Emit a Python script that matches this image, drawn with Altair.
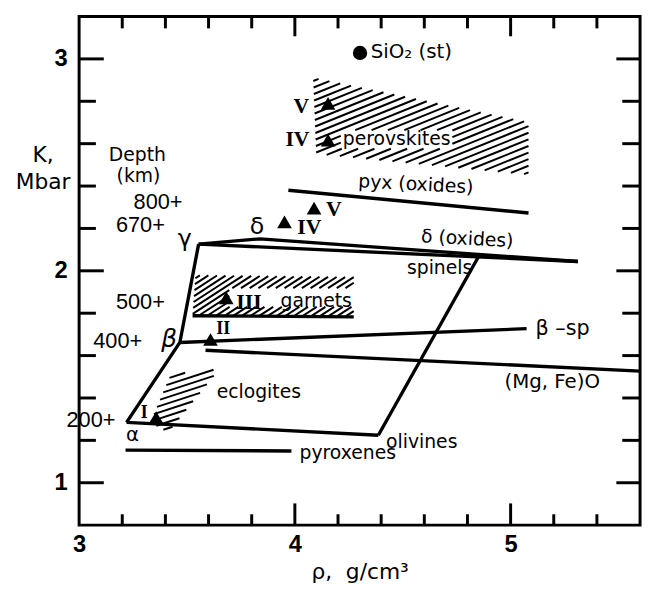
import altair as alt
import pandas as pd
import numpy as np

# ---------------- scales / plot size ----------------
X_DOMAIN = [3.0, 5.6]
Y_DOMAIN = [0.8, 3.2]
W, H = 568, 515

# ---------------- data ----------------
PYROXENES = [(3.215, 1.154), (3.984, 1.150)]
OLIVINES = [(3.220, 1.285), (4.387, 1.224)]
OLIVINE_SPINEL = [(4.387, 1.224), (4.849, 2.063)]
ALPHA_BETA_GAMMA = [(3.220, 1.285), (3.467, 1.662), (3.554, 2.126)]
SPINELS = [(3.554, 2.126), (5.312, 2.044)]
DELTA_OXIDES = [(3.554, 2.126), (3.838, 2.151), (5.312, 2.044)]
BETA_SP = [(3.467, 1.662), (5.074, 1.727)]
MGFEO = [(3.586, 1.625), (5.600, 1.527)]
PYX_OXIDES = [(3.970, 2.380), (5.083, 2.273)]
GARNET_BASE = [(3.526, 1.788), (4.273, 1.783)]

# hatched fields
PEROVSKITE_FIELD = [(4.085, 2.911), (5.083, 2.701), (5.083, 2.454), (4.099, 2.552)]
GARNET_FIELD = [(3.540, 1.979), (4.273, 1.970), (4.273, 1.786), (3.526, 1.788)]
ECLOGITE_FIELD = [(3.426, 1.512), (3.650, 1.536), (3.412, 1.238), (3.330, 1.285)]

# phase points (triangles)
TRI_X = [3.357, 3.609, 3.682, 3.952, 4.089, 4.154, 4.154]
TRI_Y = [1.308, 1.676, 1.872, 2.231, 2.296, 2.790, 2.617]

# stishovite
SIO2_X = [4.302]
SIO2_Y = [3.028]

# tick positions
X_MINOR = [3.2, 3.4, 3.6, 3.8, 4.2, 4.4, 4.6, 4.8, 5.2, 5.4]
X_MAJOR = [4.0, 5.0]
Y_MINOR = [1.2, 1.4, 1.6, 1.8, 2.2, 2.4, 2.6, 2.8]
Y_MAJOR = [1.0, 2.0, 3.0]
X_LABELS = [3, 4, 5]
Y_LABELS = [1, 2, 3]

# annotations: text, x, y, size, angle
SANS_TEXT = [
    ("SiO₂ (st)", 4.540, 3.032, 20, 0),
    ("perovskites", 4.472, 2.622, 19, 0),
    ("pyx (oxides)", 4.561, 2.408, 19, 3),
    ("δ (oxides)", 4.799, 2.151, 19, 3),
    ("spinels", 4.671, 2.012, 19, 0),
    ("garnets", 4.099, 1.858, 19, 0),
    ("β –sp", 5.241, 1.723, 21, 0),
    ("(Mg, Fe)O", 5.193, 1.476, 20, 0),
    ("eclogites", 3.833, 1.429, 19, 0),
    ("olivines", 4.588, 1.191, 19, 0),
    ("pyroxenes", 4.245, 1.140, 19, 0),
    ("Depth", 3.270, 2.548, 19, 0),
    ("(km)", 3.275, 2.445, 19, 0),
]
DEPTH_TEXT = [
    ("800+", 3.366, 2.325, 22, 0),
    ("670+", 3.284, 2.218, 22, 0),
    ("500+", 3.284, 1.853, 22, 0),
    ("400+", 3.179, 1.667, 22, 0),
    ("200+", 3.055, 1.294, 22, 0),
]
ROMAN_TEXT = [
    ("V", 4.030, 2.776, 22, 0),
    ("IV", 4.012, 2.622, 22, 0),
    ("IV", 4.067, 2.207, 22, 0),
    ("V", 4.181, 2.291, 22, 0),
    ("III", 3.787, 1.853, 22, 0),
    ("II", 3.668, 1.723, 18, 0),
    ("I", 3.302, 1.327, 18, 0),
]
GREEK_TEXT = [
    ("γ", 3.490, 2.151, 24, 0),
    ("δ", 3.824, 2.207, 24, 0),
    ("α", 3.247, 1.224, 20, 0),
]
GREEK_ITALIC = [
    ("β", 3.417, 1.676, 25, 0),
]

# ---------------- helpers ----------------
def to_px(x, y):
    return ((x - X_DOMAIN[0]) / (X_DOMAIN[1] - X_DOMAIN[0]) * W,
            (Y_DOMAIN[1] - y) / (Y_DOMAIN[1] - Y_DOMAIN[0]) * H)


def to_data(px, py):
    return (X_DOMAIN[0] + px / W * (X_DOMAIN[1] - X_DOMAIN[0]),
            Y_DOMAIN[1] - py / H * (Y_DOMAIN[1] - Y_DOMAIN[0]))


def hatch_segments(poly, angle, spacing, boxes=()):
    P = np.array([to_px(x, y) for x, y in poly])
    a = np.radians(angle)
    d = np.array([np.cos(a), -np.sin(a)])
    n = np.array([np.sin(a), np.cos(a)])
    s = P @ n
    bpx = []
    for (x0, y0, x1, y1) in boxes:
        ax, ay = to_px(x0, y0)
        bx, by = to_px(x1, y1)
        bpx.append((min(ax, bx), min(ay, by), max(ax, bx), max(ay, by)))
    rows = []
    off = s.min() + spacing / 2
    while off < s.max():
        ts = []
        for i in range(len(P)):
            A = P[i]
            B = P[(i + 1) % len(P)]
            sa = A @ n - off
            sb = B @ n - off
            if sa == sb:
                continue
            if sa * sb <= 0:
                u = sa / (sa - sb)
                ts.append((A + u * (B - A)) @ d)
        if len(ts) >= 2:
            base = n * off
            ivs = [(min(ts), max(ts))]
            for (bx0, by0, bx1, by1) in bpx:
                lo, hi = -1e9, 1e9
                for c, (m0, m1) in ((0, (bx0, bx1)), (1, (by0, by1))):
                    if abs(d[c]) < 1e-12:
                        if not (m0 <= base[c] <= m1):
                            lo, hi = 1, 0
                    else:
                        ta = (m0 - base[c]) / d[c]
                        tb = (m1 - base[c]) / d[c]
                        lo = max(lo, min(ta, tb))
                        hi = min(hi, max(ta, tb))
                if lo < hi:
                    new = []
                    for (u0, u1) in ivs:
                        if hi <= u0 or lo >= u1:
                            new.append((u0, u1))
                            continue
                        if lo > u0:
                            new.append((u0, lo))
                        if hi < u1:
                            new.append((hi, u1))
                    ivs = new
            for (u0, u1) in ivs:
                if u1 - u0 > 1.5:
                    p0 = base + u0 * d
                    p1 = base + u1 * d
                    x0, y0 = to_data(*p0)
                    x1, y1 = to_data(*p1)
                    rows.append(dict(x=x0, y=y0, x2=x1, y2=y1))
        off += spacing
    return rows


xscale = alt.Scale(domain=X_DOMAIN, nice=False, zero=False)
yscale = alt.Scale(domain=Y_DOMAIN, nice=False, zero=False)

XAXIS = alt.Axis(values=X_LABELS, format="d", ticks=False, domain=False, grid=False,
                 labelFont="Liberation Sans", labelFontWeight="bold",
                 labelFontSize=24, labelColor="black", labelPadding=8,
                 labelFlush=False,
                 title="ρ,\u00a0 g/cm³", titleFont="DejaVu Sans",
                 titleFontSize=22, titleFontWeight="normal", titleColor="black",
                 titleBaseline="alphabetic", titleY=54)
YAXIS = alt.Axis(values=Y_LABELS, format="d", ticks=False, domain=False, grid=False,
                 labelFont="Liberation Sans", labelFontWeight="bold",
                 labelFontSize=24, labelColor="black", labelPadding=12,
                 title=["K,", "Mbar"], titleAngle=0, titleX=-37, titleY=147,
                 titleAlign="center", titleBaseline="alphabetic",
                 titleFont="DejaVu Sans", titleFontSize=22,
                 titleFontWeight="normal", titleColor="black",
                 titleLineHeight=27)


def X(f="x"):
    return alt.X(f, type="quantitative", scale=xscale, axis=XAXIS)


def Y(f="y"):
    return alt.Y(f, type="quantitative", scale=yscale, axis=YAXIS)


# ---------------- line data ----------------
series = {
    "pyroxenes": PYROXENES, "olivines": OLIVINES, "olivine_spinel": OLIVINE_SPINEL,
    "abg": ALPHA_BETA_GAMMA, "spinels": SPINELS, "delta": DELTA_OXIDES,
    "beta_sp": BETA_SP, "mgfeo": MGFEO, "pyx": PYX_OXIDES, "garnet_base": GARNET_BASE,
}
line_rows = []
for name, pts in series.items():
    for i, (x, y) in enumerate(pts):
        line_rows.append(dict(series=name, order=i, x=x, y=y))
lines_df = pd.DataFrame(line_rows)

# hatch data
hatch_rows = []
hatch_rows += hatch_segments(PEROVSKITE_FIELD, 22, 6.2,
                             boxes=[(4.213, 2.576, 4.730, 2.664)])
hatch_rows += hatch_segments(GARNET_FIELD, 33, 4.8,
                             boxes=[(3.696, 1.830, 4.291, 1.918)])
hatch_rows += hatch_segments(ECLOGITE_FIELD, 18, 6.0)
hatch_df = pd.DataFrame(hatch_rows)

# ---------------- layers ----------------
lines_layer = alt.Chart(lines_df).mark_line(strokeWidth=3.4, color="black").encode(
    x=X(), y=Y(), detail="series:N", order="order:Q"
)

hatch_layer = alt.Chart(hatch_df).mark_rule(strokeWidth=2, color="black").encode(
    x=X(), y=Y(), x2="x2:Q", y2="y2:Q"
)


def tick_layer(vals, side, length):
    if side in ("bottom", "top"):
        df = pd.DataFrame({"x": vals})
        y0 = H if side == "bottom" else 0
        y1 = H - length if side == "bottom" else length
        return alt.Chart(df).mark_rule(strokeWidth=3, color="black").encode(
            x=X(), y=alt.value(y0), y2=alt.value(y1))
    df = pd.DataFrame({"y": vals})
    x0 = 0 if side == "left" else W
    x1 = length if side == "left" else W - length
    return alt.Chart(df).mark_rule(strokeWidth=3, color="black").encode(
        y=Y(), x=alt.value(x0), x2=alt.value(x1))


ticks = [
    tick_layer(X_MINOR, "bottom", 11), tick_layer(X_MAJOR, "bottom", 22),
    tick_layer(X_MINOR, "top", 12), tick_layer(X_MAJOR, "top", 20),
    tick_layer(Y_MINOR, "left", 17), tick_layer(Y_MAJOR, "left", 25),
    tick_layer(Y_MINOR, "right", 18), tick_layer(Y_MAJOR, "right", 24),
]

tri_layer = alt.Chart(pd.DataFrame({"x": TRI_X, "y": TRI_Y})).mark_point(
    shape="triangle-up", filled=True, size=220, color="black", opacity=1
).encode(x=X(), y=Y())

sio2_layer = alt.Chart(pd.DataFrame({"x": SIO2_X, "y": SIO2_Y})).mark_point(
    shape="circle", filled=True, size=210, color="black", opacity=1
).encode(x=X(), y=Y())


def text_layer(items, font, weight="normal", style="normal"):
    df = pd.DataFrame(items, columns=["text", "x", "y", "fs", "ang"])
    return alt.Chart(df).mark_text(
        font=font, fontWeight=weight, fontStyle=style, color="black",
        align="center", baseline="middle"
    ).encode(
        x=X(), y=Y(), text="text:N",
        size=alt.Size("fs:Q", scale=None, legend=None),
        angle=alt.Angle("ang:Q", scale=None),
    )


texts = [
    text_layer(SANS_TEXT, "DejaVu Sans"),
    text_layer(DEPTH_TEXT, "Liberation Sans"),
    text_layer(ROMAN_TEXT, "Liberation Serif", weight="bold"),
    text_layer(GREEK_TEXT, "DejaVu Sans"),
    text_layer(GREEK_ITALIC, "DejaVu Sans", style="italic"),
]

chart = alt.layer(lines_layer, hatch_layer, *ticks, tri_layer, sio2_layer, *texts).properties(
    width=W, height=H,
    padding={"left": 72, "top": 5, "right": 5, "bottom": 57},
    autosize=alt.AutoSizeParams(type="none"),
    background="white",
).configure_view(stroke="black", strokeWidth=3)

chart.save("out.html", embed_options={"renderer": "svg", "actions": False})
